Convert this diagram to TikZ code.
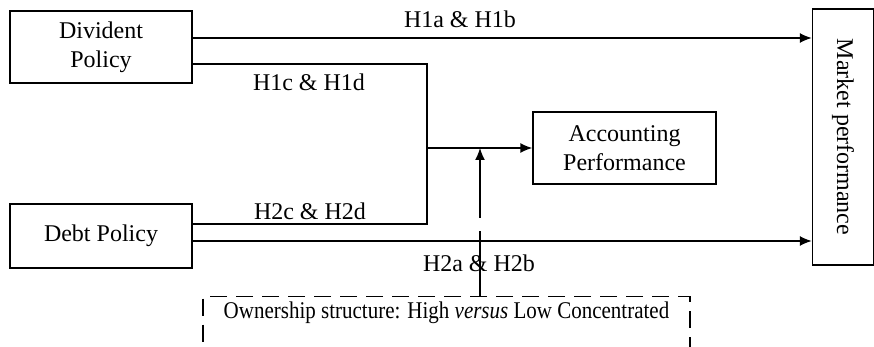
\documentclass[tikz,border=0pt]{standalone}
\usepackage{fontspec}
\setmainfont{Liberation Serif}
\usetikzlibrary{arrows.meta,calc}

\begin{document}
\begin{tikzpicture}[x=0.5pt,y=-0.5pt,
	every node/.style={font=\fontsize{12}{14.5}\selectfont},
	block/.style={draw, line width=0.7pt, align=center, inner sep=0pt},
	wire/.style={line width=0.7pt},
	arr/.style={wire, -{Latex[length=6pt,width=5pt]}}]

	\useasboundingbox (0,0) rectangle (874,347);

	\node[block, minimum width=91pt,   minimum height=36pt]  (div)  at (101,47)    {Divident\\Policy};
	\node[block, minimum width=91pt,   minimum height=32pt]  (debt) at (101,236)   {Debt Policy};
	\node[block, minimum width=91.5pt, minimum height=36pt]  (acc)  at (624.5,148) {Accounting\\Performance};
	\node[block, minimum width=30.5pt, minimum height=128pt] (mkt)  at (843,137)   {\rotatebox{-90}{Market performance}};
	\node[block, dash pattern=on 8.5pt off 4.5pt, anchor=north, minimum width=243.5pt,
	      text height=7pt, text depth=30pt, inner ysep=4pt] (own) at (446.5,296)
	      {\addfontfeature{FakeStretch=0.875}Ownership structure: High \emph{versus} Low Concentrated};

	% tap points on the policy boxes
	\coordinate (div1)  at ([yshift=4.5pt]div.east);
	\coordinate (div2)  at ([yshift=-8.5pt]div.east);
	\coordinate (debt1) at ([yshift=6pt]debt.east);
	\coordinate (debt2) at ([yshift=-2.5pt]debt.east);
	\coordinate (join)  at (427,148);
	\coordinate (mod)   at (480,148);

	\draw[arr]  (div1) -- (div1 -| mkt.west);
	\draw[arr]  (debt2) -- (debt2 -| mkt.west);
	\draw[wire] (div2) -| (join);
	\draw[wire] (debt1) -| (join);
	\draw[arr]  (join) -- (acc.west);
	\draw[arr, dash pattern=on 32.5pt off 6.5pt] (mod |- own.north) -- (mod);

	\node (h1ab) at (460,19)  {H1a \& H1b};
	\node (h1cd) at (309,82)  {H1c \& H1d};
	\node (h2cd) at (310,211) {H2c \& H2d};
	\node (h2ab) at (479,263) {H2a \& H2b};
\end{tikzpicture}
\end{document}
